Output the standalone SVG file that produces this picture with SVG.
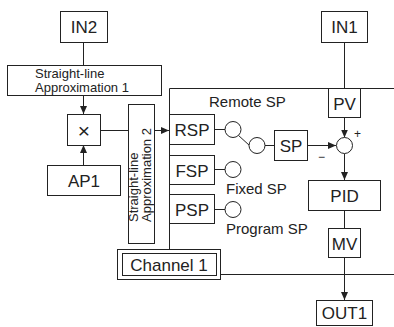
<svg xmlns="http://www.w3.org/2000/svg" width="394" height="327" viewBox="0 0 394 327">
<style>
.b{fill:#fff;stroke:#222;stroke-width:1}
.l{fill:none;stroke:#222;stroke-width:1}
.t{font-family:"Liberation Sans",Arial,sans-serif;fill:#222}
.bl{font-size:17px;text-anchor:middle}
.sm{font-size:13px}
.lab{font-size:15px}
</style>
<defs>
<marker id="ah" viewBox="0 0 8 8" refX="8" refY="4" markerWidth="8" markerHeight="8" markerUnits="userSpaceOnUse" orient="auto">
<path d="M0,0.5 L8,4 L0,7.5 Z" fill="#222"/>
</marker>
</defs>
<rect width="394" height="327" fill="#fff"/>
<g id="connectors">
<line class="l" x1="83.5" y1="42" x2="83.5" y2="65"/>
<line class="l" x1="83.5" y1="95" x2="83.5" y2="114" marker-end="url(#ah)"/>
<line class="l" x1="83.5" y1="165" x2="83.5" y2="145" marker-end="url(#ah)"/>
<line class="l" x1="100" y1="130.5" x2="128" y2="130.5"/>
<line class="l" x1="155" y1="130.5" x2="169" y2="130.5" marker-end="url(#ah)"/>
<polyline class="l" points="394,88.5 169.5,88.5 169.5,249"/>
<line class="l" x1="221" y1="274.5" x2="394" y2="274.5"/>
<line class="l" x1="215" y1="129.5" x2="225" y2="129.5"/>
<line class="l" x1="215" y1="169.5" x2="225" y2="169.5"/>
<line class="l" x1="215" y1="209.5" x2="225" y2="209.5"/>
<line class="l" x1="238" y1="135" x2="249.5" y2="145.5"/>
<line class="l" x1="265" y1="145.5" x2="274" y2="145.5"/>
<line class="l" x1="308" y1="145.5" x2="336" y2="145.5" marker-end="url(#ah)"/>
<line class="l" x1="344.5" y1="42" x2="344.5" y2="88"/>
<line class="l" x1="344.5" y1="118" x2="344.5" y2="137.5" marker-end="url(#ah)"/>
<line class="l" x1="344.5" y1="153.5" x2="344.5" y2="180" marker-end="url(#ah)"/>
<line class="l" x1="344.5" y1="211" x2="344.5" y2="228"/>
<line class="l" x1="344.5" y1="258" x2="344.5" y2="300" marker-end="url(#ah)"/>
</g>
<g id="IN2"><rect class="b" x="60.5" y="11.5" width="47" height="31"/><text class="t bl" x="84" y="33">IN2</text></g>
<g id="approx1"><rect class="b" x="7.5" y="65.5" width="154" height="30"/><text class="t sm" x="35" y="78">Straight-line</text><text class="t sm" x="35" y="91.5">Approximation 1</text></g>
<g id="mult"><rect class="b" x="67.5" y="114.5" width="33" height="31"/><text class="t" x="84" y="137.5" font-size="21" text-anchor="middle">×</text></g>
<g id="AP1"><rect class="b" x="47.5" y="165.5" width="73" height="30"/><text class="t bl" x="84" y="186.5">AP1</text></g>
<g id="approx2"><rect class="b" x="128.5" y="104.5" width="26" height="139"/><text class="t sm" transform="translate(138,222) rotate(-90)">Straight-line</text><text class="t sm" transform="translate(151,222) rotate(-90)">Approximation 2</text></g>
<g id="RSP"><rect class="b" x="169.5" y="114.5" width="45" height="30"/><text class="t bl" x="192" y="136">RSP</text></g>
<g id="FSP"><rect class="b" x="169.5" y="155.5" width="45" height="29"/><text class="t bl" x="192" y="176.5">FSP</text></g>
<g id="PSP"><rect class="b" x="169.5" y="194.5" width="45" height="29"/><text class="t bl" x="192" y="215.5">PSP</text></g>
<g id="switches">
<circle class="b" cx="233" cy="129.5" r="8"/>
<circle class="b" cx="233" cy="169.5" r="8"/>
<circle class="b" cx="233" cy="209.5" r="8"/>
<circle class="b" cx="257" cy="145.5" r="8"/>
</g>
<g id="labels">
<text class="t lab" x="209" y="107">Remote SP</text>
<text class="t lab" x="226" y="194">Fixed SP</text>
<text class="t lab" x="226" y="234">Program SP</text>
</g>
<g id="SP"><rect class="b" x="274.5" y="130.5" width="33" height="30"/><text class="t bl" x="291" y="151.5">SP</text></g>
<g id="sum"><circle class="b" cx="344.5" cy="145.5" r="8"/><text class="t" x="354" y="138" font-size="12">+</text><text class="t" x="318" y="161" font-size="12">−</text></g>
<g id="IN1"><rect class="b" x="321.5" y="11.5" width="46" height="31"/><text class="t bl" x="344.5" y="33">IN1</text></g>
<g id="PV"><rect class="b" x="328.5" y="88.5" width="32" height="29"/><text class="t bl" x="344.5" y="109.5">PV</text></g>
<g id="PID"><rect class="b" x="308.5" y="180.5" width="72" height="30"/><text class="t bl" x="344.5" y="201.5">PID</text></g>
<g id="MV"><rect class="b" x="328.5" y="228.5" width="32" height="29"/><text class="t bl" x="344.5" y="249.5">MV</text></g>
<g id="OUT1"><rect class="b" x="316.5" y="300.5" width="56" height="25"/><text class="t bl" x="344.5" y="319">OUT1</text></g>
<g id="channel"><rect class="b" x="117.5" y="249.5" width="103" height="30"/><rect class="b" x="122.5" y="253.5" width="94" height="22"/><text class="t" x="169" y="271" font-size="17" text-anchor="middle">Channel 1</text></g>
</svg>
